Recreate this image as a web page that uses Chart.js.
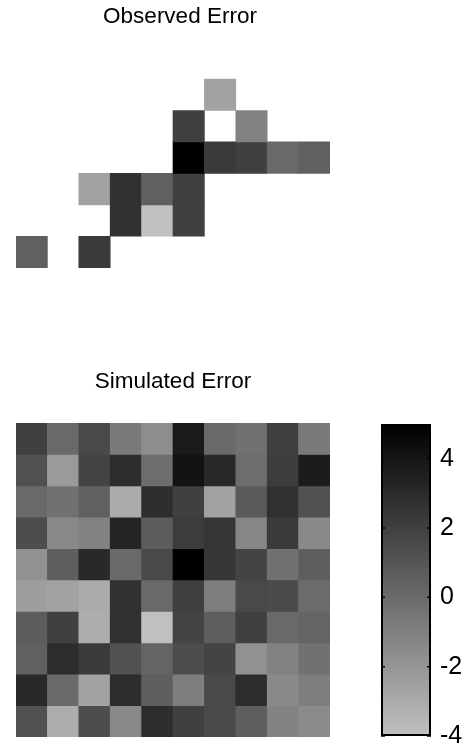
<!DOCTYPE html>
<html>
<head>
<meta charset="utf-8">
<script src="https://cdn.jsdelivr.net/npm/chart.js@4/dist/chart.umd.min.js"></script>
<style>
  html, body { margin: 0; padding: 0; background: #fff; overflow: hidden; }
  body { position: relative; width: 465px; height: 746px; }
  .box { position: absolute; }
</style>
</head>
<body>
<div class="box" style="left:0;top:0;width:344px;height:362px"><canvas id="observed" width="344" height="362"></canvas></div>
<div class="box" style="left:0;top:350px;width:346px;height:387px"><canvas id="simulated" width="346" height="387"></canvas></div>
<div class="box" style="left:370px;top:400px;width:95px;height:360px"><canvas id="colorbar" width="95" height="360"></canvas></div>
<script>
// Error grids (rows top to bottom, columns left to right), null = not observed
const columnLabels = ['1', '2', '3', '4', '5', '6', '7', '8', '9', '10'];

const observedError = [
  [null, null, null, null, null, null, null, null, null, null],
  [null, null, null, null, null, null, -2.6, null, null, null],
  [null, null, null, null, null, 2.0, null, -1.1, null, null],
  [null, null, null, null, null, 5.0, 2.3, 2.0, 0.1, 0.5],
  [null, null, -2.6, 2.7, 0.5, 2.0, null, null, null, null],
  [null, null, null, 2.7, -4.0, 2.0, null, null, null, null],
  [0.5, null, 2.3, null, null, null, null, null, null, null],
  [null, null, null, null, null, null, null, null, null, null],
  [null, null, null, null, null, null, null, null, null, null],
  [null, null, null, null, null, null, null, null, null, null]
];

const simulatedError = [
  [2.0, 0.1, 1.6, -0.7, -1.6, 3.8, 0.1, -0.3, 2.0, -0.7],
  [1.2, -2.2, 1.8, 2.9, -0.1, 4.1, 3.1, -0.1, 2.2, 3.7],
  [0.1, -0.3, 0.5, -3.0, 2.9, 2.0, -2.6, 0.8, 2.7, 1.2],
  [1.4, -1.4, -1.1, 3.3, 0.7, 2.2, 2.5, -1.3, 2.3, -1.4],
  [-1.8, 0.6, 3.1, 0.1, 1.6, 5.0, 2.4, 1.8, -0.3, 0.6],
  [-2.4, -2.6, -3.0, 2.7, 0.1, 2.0, -0.9, 1.6, 1.5, 0.0],
  [0.7, 2.0, -3.1, 2.7, -4.0, 1.8, 0.6, 2.0, 0.1, 0.3],
  [0.5, 2.9, 2.3, 1.2, 0.3, 1.4, 1.8, -1.8, -1.1, -0.3],
  [3.1, 0.1, -2.6, 2.9, 0.6, -0.9, 1.6, 2.9, -1.4, -0.9],
  [1.2, -3.1, 1.4, -1.4, 2.9, 2.0, 1.6, 0.6, -1.1, -1.5]
];

const colorbarTicks = [-4, -2, 0, 2, 4];
const colorMin = -4;
const colorMax = 5;

const FONT = '"Liberation Sans", Arial, Helvetica, sans-serif';

// inverted gray map: colorMax -> black, colorMin -> light gray
function grayOf(v) {
  let t = (colorMax - v) / (colorMax - colorMin);
  t = Math.min(1, Math.max(0, t));
  const g = Math.round(192 * t);
  return `rgb(${g},${g},${g})`;
}

function heatmap(id, title, rows, titlePad, rightWidth, padRight) {
  new Chart(document.getElementById(id), {
    type: 'bar',
    data: {
      labels: columnLabels,
      datasets: rows.map((row, r) => ({
        data: row.map(v => v === null ? null : [r, r + 1]),
        backgroundColor: row.map(v => v === null ? 'rgba(0,0,0,0)' : grayOf(v)),
        borderWidth: 0,
        barPercentage: 1,
        categoryPercentage: 1,
        grouped: false,
      }))
    },
    options: {
      responsive: false,
      animation: false,
      events: [],
      layout: { padding: { left: 16, right: padRight, top: 0, bottom: 0 } },
      plugins: {
        legend: { display: false },
        tooltip: { enabled: false },
        title: {
          display: true,
          text: title,
          color: '#000',
          font: { family: FONT, size: 22.5, weight: 'normal', lineHeight: 1.2 },
          padding: titlePad,
        }
      },
      scales: {
        x: { display: false },
        y: {
          display: rightWidth > 0,
          position: 'right',
          reverse: true,
          min: 0,
          max: 10,
          grid: { display: false, drawTicks: false },
          border: { display: false },
          ticks: { display: false },
          afterFit: s => { s.width = rightWidth; },
        }
      }
    }
  });
}

heatmap('observed', 'Observed Error', observedError, { top: 3, bottom: 17.6 }, 14, 0);
heatmap('simulated', 'Simulated Error', simulatedError, { top: 18.5, bottom: 27.5 }, 0, 16);

// small black tick marks on both inner edges of the colour bar
const marquesBarra = {
  id: 'marquesBarra',
  afterDatasetsDraw(chart) {
    const { ctx, chartArea: a, scales: { y } } = chart;
    ctx.save();
    ctx.strokeStyle = '#000';
    ctx.lineWidth = 1.5;
    colorbarTicks.forEach(v => {
      const py = y.getPixelForValue(v);
      ctx.beginPath();
      ctx.moveTo(a.left, py);
      ctx.lineTo(a.left + 4, py);
      ctx.moveTo(a.right - 4, py);
      ctx.lineTo(a.right, py);
      ctx.stroke();
    });
    ctx.restore();
  }
};

new Chart(document.getElementById('colorbar'), {
  type: 'bar',
  data: {
    labels: [''],
    datasets: [{
      data: [[colorMin, colorMax]],
      backgroundColor: c => {
        const ch = c.chart;
        const y = ch.scales.y;
        if (!y || !ch.chartArea) return grayOf(0);
        const g = ch.ctx.createLinearGradient(0, y.getPixelForValue(colorMax), 0, y.getPixelForValue(colorMin));
        g.addColorStop(0, grayOf(colorMax));
        g.addColorStop(1, grayOf(colorMin));
        return g;
      },
      borderColor: '#000',
      borderWidth: 2,
      borderSkipped: false,
      barPercentage: 1,
      categoryPercentage: 1,
      inflateAmount: 0,
    }]
  },
  options: {
    responsive: false,
    animation: false,
    events: [],
    layout: { padding: { left: 11, right: 0, top: 23, bottom: 22 } },
    plugins: {
      legend: { display: false },
      tooltip: { enabled: false },
    },
    scales: {
      x: { display: false },
      y: {
        position: 'right',
        min: colorMin,
        max: colorMax,
        afterBuildTicks: s => { s.ticks = colorbarTicks.map(v => ({ value: v })); },
        afterFit: s => { s.width = 34; },
        grid: { display: false, drawTicks: false },
        border: { display: false },
        ticks: { padding: 9, color: '#000', font: { family: FONT, size: 25 } },
      }
    }
  },
  plugins: [marquesBarra]
});
</script>
</body>
</html>
